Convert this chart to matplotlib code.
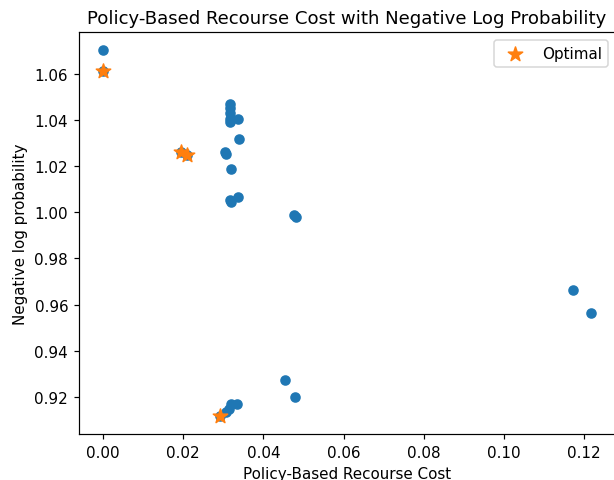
import numpy as np
from matplotlib import pyplot as plt

# all solutions (recourse cost, negative log probability)
cost = [0.0000, 0.0000,
        0.0317, 0.0317, 0.0317, 0.0317, 0.0317, 0.0337, 0.0339,
        0.0304, 0.0306, 0.0319, 0.0317, 0.0319, 0.0337,
        0.0476, 0.0481, 0.1173, 0.1218,
        0.0453, 0.0478, 0.0319, 0.0334, 0.0314, 0.0306, 0.0291,
        0.0194, 0.0209]
neg_log_prob = [1.0703, 1.0612,
                1.0468, 1.0451, 1.0429, 1.0407, 1.0394, 1.0403, 1.0320,
                1.0264, 1.0255, 1.0190, 1.0055, 1.0046, 1.0068,
                0.9989, 0.9981, 0.9663, 0.9563,
                0.9272, 0.9198, 0.9168, 0.9168, 0.9146, 0.9133, 0.9116,
                1.0264, 1.0251]

# optimal ones
opt_cost = [0.0000, 0.0194, 0.0209, 0.0291]
opt_neg_log_prob = [1.0612, 1.0264, 1.0251, 0.9116]

DPI = 108.6
fig = plt.figure(figsize=(614 / DPI, 481 / DPI), dpi=DPI)
ax = fig.add_axes([0.1282, 0.0946, 0.8744, 0.8368])

ax.scatter(cost, neg_log_prob)
ax.scatter(opt_cost, opt_neg_log_prob, marker='*', s=100, label='Optimal')

ax.set_title('Policy-Based Recourse Cost with Negative Log Probability')
ax.set_xlabel('Policy-Based Recourse Cost')
ax.set_ylabel('Negative log probability')
ax.legend(loc='upper right')

fig.savefig('out.png', dpi=DPI)
